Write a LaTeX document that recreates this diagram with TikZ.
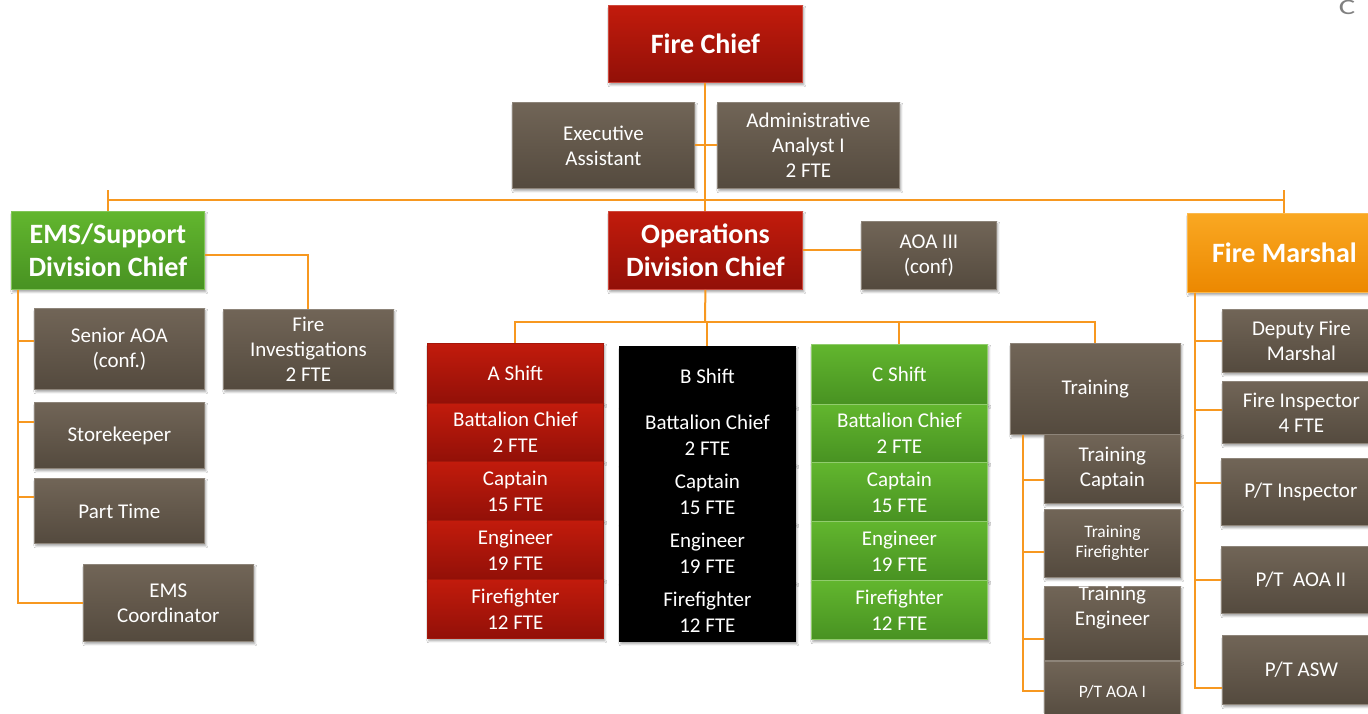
\documentclass[tikz,border=0pt]{standalone}
\usepackage{fontspec}
\setmainfont{Carlito}
\usepackage{xcolor}
\usepackage{tikz}
\usetikzlibrary{shadows.blur}

\definecolor{chiefred}{RGB}{194,27,12}
\definecolor{chiefreddark}{RGB}{146,16,8}
\definecolor{staffgray}{RGB}{113,101,87}
\definecolor{staffgraydark}{RGB}{84,74,62}
\definecolor{emsgreen}{RGB}{98,182,46}
\definecolor{emsgreendark}{RGB}{72,146,34}
\definecolor{marshalorange}{RGB}{250,168,34}
\definecolor{marshalorangedark}{RGB}{236,136,0}
\definecolor{linkorange}{RGB}{247,152,32}

\tikzset{
  orgbox/.style={line width=0.8pt, inner sep=0pt, align=center, text=white, anchor=north west,
    blur shadow={shadow xshift=1.5pt, shadow yshift=-2.5pt, shadow blur radius=2pt, shadow opacity=35}},
  staffbox/.style={orgbox, draw=staffgray!80!white, top color=staffgray, bottom color=staffgraydark,
    font=\fontsize{21}{25}\selectfont},
  smallstaff/.style={staffbox, font=\fontsize{17.5}{20}\selectfont},
  chiefbox/.style={orgbox, draw=chiefred!80!white, top color=chiefred, bottom color=chiefreddark,
    font=\fontsize{28}{33}\selectfont\bfseries},
  emsbox/.style={orgbox, draw=emsgreen!80!white, top color=emsgreen, bottom color=emsgreendark,
    font=\fontsize{28}{33}\selectfont\bfseries},
  marshalbox/.style={orgbox, draw=marshalorange!80!white, top color=marshalorange, bottom color=marshalorangedark,
    font=\fontsize{28}{32}\selectfont\bfseries},
  redrow/.style={orgbox, draw=chiefred!85!black, top color=chiefred, bottom color=chiefreddark,
    font=\fontsize{21}{26}\selectfont},
  blackrow/.style={orgbox, draw=black, fill=black, font=\fontsize{21}{26}\selectfont},
  greenrow/.style={orgbox, draw=emsgreen!70!white, top color=emsgreen, bottom color=emsgreendark,
    font=\fontsize{21}{26}\selectfont},
  orgline/.style={draw=linkorange, line width=2pt}
}

\begin{document}
\begin{tikzpicture}[x=1pt,y=-1pt]
    \useasboundingbox (0,0) rectangle (1368,713);
    \clip (0,0) rectangle (1368,713);
    \fill[white] (0,0) rectangle (1368,713);
    \node[text=gray, font=\fontsize{22}{24}\selectfont, anchor=north, xscale=1.4] (corner) at (1347,-3) {C};

    % top of the chart
    \node[chiefbox, minimum width=194pt, minimum height=77pt] (chief) at (608,5) {Fire Chief};
    \node[staffbox, minimum width=182pt, minimum height=86pt] (exec) at (512,102) {Executive\\Assistant};
    \node[staffbox, minimum width=182pt, minimum height=86pt] (admin) at (717,102) {Administrative\\Analyst I\\2 FTE};

    % divisions
    \node[emsbox, minimum width=193pt, minimum height=78pt] (ems) at (11,211) {EMS/Support\\Division Chief};
    \node[chiefbox, minimum width=194pt, minimum height=78pt] (ops) at (608,211) {Operations\\Division Chief};
    \node[staffbox, minimum width=135pt, minimum height=68pt] (aoa3) at (861,221) {AOA III\\(conf)};
    \node[marshalbox, minimum width=194pt, minimum height=79pt] (marshal) at (1187,213) {Fire Marshal};

    % EMS/Support branch
    \node[staffbox, minimum width=170pt, minimum height=80pt] (fireinv) at (223,309) {Fire\\Investigations\\2 FTE};
    \node[staffbox, minimum width=170pt, minimum height=81pt] (senior) at (34,308) {Senior AOA\\(conf.)};
    \node[staffbox, minimum width=170pt, minimum height=66pt] (store) at (34,402) {Storekeeper};
    \node[staffbox, minimum width=170pt, minimum height=65pt] (parttime) at (34,478) {Part Time};
    \node[staffbox, minimum width=170pt, minimum height=77pt] (emscoord) at (83,564) {EMS\\Coordinator};

    % shifts
    \foreach \col/\x/\y/\sty in {A/427/343/redrow, B/619/346/blackrow, C/811/344/greenrow} {
        \foreach \r/\dy/\h/\txt in {0/0/60/{\col{} Shift}, 1/60/58/{Battalion Chief\\2 FTE},
                2/118/59/{Captain\\15 FTE}, 3/177/59/{Engineer\\19 FTE}, 4/236/59/{Firefighter\\12 FTE}}
            \node[\sty, minimum width=176pt, minimum height=\h pt] (\col-\r) at (\x,\y+\dy) {\txt};
    }

    % training
    \node[staffbox, minimum width=170pt, minimum height=91pt] (train) at (1010,343) {Training};
    \node[staffbox, minimum width=136pt, minimum height=69pt] (tcapt) at (1044,434) {Training\\Captain};
    \node[smallstaff, minimum width=136pt, minimum height=68pt] (tff) at (1044,509) {Training\\Firefighter};
    \node[staffbox, minimum width=136pt, minimum height=68pt] (teng) at (1044,586) {Training\\Engineer\\[10pt]};
    \node[smallstaff, minimum width=136pt, minimum height=60pt] (taoa) at (1044,661) {P/T AOA I};

    % fire marshal branch
    \node[staffbox, minimum width=158pt, minimum height=63pt] (deputy) at (1222,309) {Deputy Fire\\Marshal};
    \node[staffbox, minimum width=158pt, minimum height=62pt] (finsp) at (1222,381) {Fire Inspector\\4 FTE};
    \node[staffbox, minimum width=159pt, minimum height=67pt] (ptinsp) at (1221,458) {P/T Inspector};
    \node[staffbox, minimum width=159pt, minimum height=67pt] (ptaoa) at (1221,546) {P/T~ AOA II};
    \node[staffbox, minimum width=158pt, minimum height=69pt] (ptasw) at (1222,635) {P/T ASW};

    % connectors
    \coordinate (topbar) at (705,200);
    \coordinate (opsbar) at (705,322);
    \draw[orgline] (chief.south) -- (ops.north);
    \draw[orgline] (exec.east) -- (admin.west);
    \draw[orgline] (ems.north) -- ++(0,-21);
    \draw[orgline] (marshal.north) -- ++(0,-23);
    \draw[orgline] (ems.north |- topbar) -- (marshal.north |- topbar);
    \draw[orgline] ([yshift=-5pt]ems.east) -| (fireinv.north);
    \draw[orgline] (ops.east) -- (ops.east -| aoa3.west);
    \draw[orgline] (ops.south) -- (opsbar);
    \draw[orgline] (A-0.north) -- (A-0.north |- opsbar) -- (train.north |- opsbar) -- (train.north);
    \draw[orgline] (B-0.north) -- (B-0.north |- opsbar);
    \draw[orgline] (C-0.north) -- (C-0.north |- opsbar);

    \coordinate (emsspine) at ([xshift=7pt]ems.south west);
    \foreach \n/\s in {senior/8, store/13, parttime/14, emscoord/0}
        \draw[orgline] (emsspine) |- ([yshift=\s pt]\n.west);

    \coordinate (trainspine) at ([xshift=13pt]train.south west);
    \foreach \n/\s in {tcapt/-11, tff/-9, teng/-15, taoa/0}
        \draw[orgline] (trainspine) |- ([yshift=\s pt]\n.west);

    \coordinate (marshalspine) at ([xshift=8pt]marshal.south west);
    \foreach \n/\s in {deputy/0, finsp/2, ptinsp/9, ptaoa/0, ptasw/-18}
        \draw[orgline] (marshalspine) |- ([yshift=\s pt]\n.west);
\end{tikzpicture}
\end{document}
